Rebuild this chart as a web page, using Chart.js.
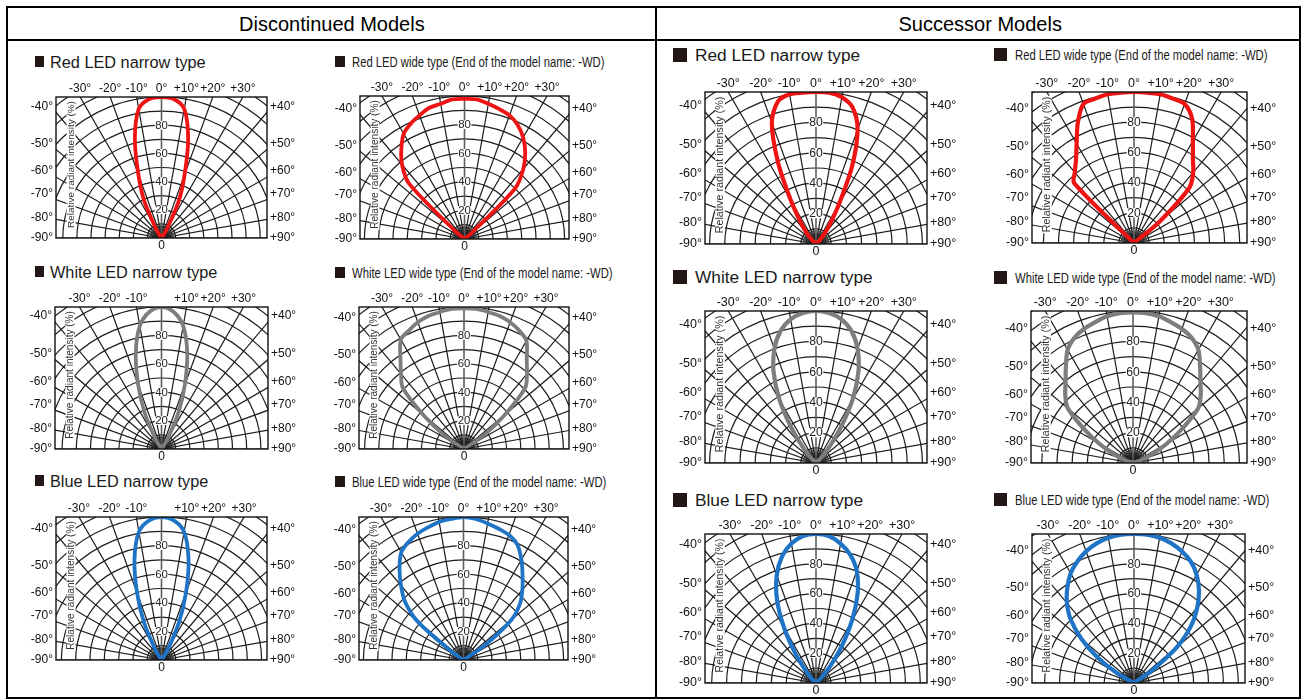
<!DOCTYPE html>
<html><head><meta charset="utf-8">
<script src="https://cdn.jsdelivr.net/npm/chart.js@4.4.1/dist/chart.umd.min.js"></script>
<style>
html,body{margin:0;padding:0;background:#fff;width:1306px;height:700px;overflow:hidden;font-family:"Liberation Sans",Arial,sans-serif;}
#stage{position:relative;width:1306px;height:700px;}
.line{position:absolute;background:#000;}
.hdr{position:absolute;font-size:20px;line-height:20px;color:#000;white-space:nowrap;}
.sq{position:absolute;background:#231815;}
.ttl{position:absolute;white-space:nowrap;color:#1a1a1a;transform-origin:0 50%;}
.box{position:absolute;}
</style></head><body><div id="stage"></div>
<script>
// ---------- data ----------
const angles = [-75,-70,-65,-60,-55,-50,-45,-40,-35,-30,-25,-20,-15,-10,-5,0,5,10,15,20,25,30,35,40,45,50,55,60,65,70,75];
const topTickAngles = [-30,-20,-10,0,10,20,30];
const sideTickAngles = [40,50,60,70,80,90];
const radialTickLabels = [20,40,60,80];
const columnTitles = ['Discontinued Models','Successor Models'];
const axisTitle = 'Relative radiant intensity (%)';
const panelTitles = [
  'Red LED narrow type','Red LED wide type (End of the model name: -WD)',
  'White LED narrow type','White LED wide type (End of the model name: -WD)',
  'Blue LED narrow type','Blue LED wide type (End of the model name: -WD)'
];
// relative radiant intensity (%) at each angle of `angles`
const redNarrowOld   = [0,0,0,0,0,0,0,0,2,9,29,48,73,93,99,100,99,93,73,48,29,9,2,0,0,0,0,0,0,0,0];
const redWideOld     = [0,0,0,0,0,8,55,68,77,85,89,92,95,96,98,98,98,96,94,92,88,82,74,64,50,6,0,0,0,0,0];
const whiteNarrowOld = [0,0,0,0,0,0,0,0,2,10,28,48,70,88,97,100,97,88,70,48,28,10,2,0,0,0,0,0,0,0,0];
const whiteWideOld   = [0,0,0,0,18,38,61,69,78,89,92,95,97,98,99,99,99,98,97,95,92,88,77,69,61,38,18,0,0,0,0];
const blueNarrowOld  = [0,0,0,0,0,0,0,0,2,10,29,50,73,91,98,100,98,91,73,50,29,10,2,0,0,0,0,0,0,0,0];
const blueWideOld    = [0,0,0,0,10,42,58,68,78,87,91,94,96,98,99,100,99,97,95,93,89,81,72,64,56,44,20,0,0,0,0];
const redNarrowNew   = [0,0,0,0,0,0,4,10,18,33,59,85,97,100,100,100,100,98,93,80,56,30,16,8,3,0,0,0,0,0,0];
const redWideNew     = [0,0,0,0,0,0,56,61,67,76,88,98,99,100,100,100,100,100,99,98,91,78,68,61,52,22,0,0,0,0,0];
const whiteNarrowNew = [0,0,0,0,0,0,5,13,28,48,66,80,90,96,99,100,99,96,90,80,66,48,28,13,5,0,0,0,0,0,0];
const whiteWideNew   = [0,6,14,26,40,56,63,69,77,86,91,94,96,98,99,99,99,98,96,94,91,86,77,69,63,56,40,26,14,6,0];
const blueNarrowNew  = [0,0,0,0,0,0,4,10,24,43,62,77,88,95,99,100,99,95,89,80,66,48,30,15,5,0,0,0,0,0,0];
const blueWideNew    = [0,0,0,13,30,46,60,70,78,85,90,94,97,99,100,100,100,99,97,94,90,84,76,66,54,38,15,0,0,0,0];

const RED = '#ee1414', GRAY = '#7d7d7d', BLUE = '#1f74c6';

// ---------- layout ----------
const stage = document.getElementById('stage');
function line(x,y,w,h){const d=document.createElement('div');d.className='line';Object.assign(d.style,{left:x+'px',top:y+'px',width:w+'px',height:h+'px'});stage.appendChild(d);}
line(6,6,1295,2); line(6,39,1295,2); line(6,6,2,693); line(1299,6,2,693); line(655,6,2,693); line(6,697,1295,2);
function hdr(text,cx,cy){const d=document.createElement('div');d.className='hdr';d.textContent=text;stage.appendChild(d);
  d.style.left=(cx-d.offsetWidth/2)+'px';d.style.top=(cy-10)+'px';}
hdr(columnTitles[0],332,24); hdr(columnTitles[1],980,24);

const panels = [
  {data:redNarrowOld,  color:RED,  title:0,rect:[56,97,211,141], sq:[35,56,9,11], tx:50, cy:62, fs:16.3, sx:1, zero:true, lw:3.8},
  {data:redWideOld,    color:RED,  title:1,rect:[360,96,209,143],sq:[335,56,10,11],tx:352,cy:62, fs:14, sx:0.805, zero:true, lw:3.8},
  {data:whiteNarrowOld,color:GRAY, title:2,rect:[55,307,213,142],sq:[35,266,9,11],tx:50, cy:272,fs:16.3, sx:1, zero:false, lw:3.8},
  {data:whiteWideOld,  color:GRAY, title:3,rect:[359,307,210,142],sq:[335,267,10,11],tx:352,cy:273,fs:14, sx:0.805, zero:true, lw:3.8},
  {data:blueNarrowOld, color:BLUE, title:4,rect:[56,517,211,143],sq:[35,475,9,11],tx:50, cy:481,fs:16.3, sx:1, zero:false, lw:3.8},
  {data:blueWideOld,   color:BLUE, title:5,rect:[359,517,209,143],sq:[335,476,10,11],tx:352,cy:482,fs:14, sx:0.805, zero:true, lw:3.8},
  {data:redNarrowNew,  color:RED,  title:0,rect:[705,92,222,152],sq:[673,48,14,14],tx:695,cy:55, fs:17.3, sx:1, zero:true, lw:4.2},
  {data:redWideNew,    color:RED,  title:1,rect:[1032,92,215,151],sq:[994,48,13,13],tx:1015,cy:55, fs:14, sx:0.805, zero:true, lw:4.2, ox:1134},
  {data:whiteNarrowNew,color:GRAY, title:2,rect:[705,311,222,152],sq:[673,270,14,14],tx:695,cy:277,fs:17.3, sx:1, zero:true, lw:4.2},
  {data:whiteWideNew,  color:GRAY, title:3,rect:[1031,311,216,152],sq:[994,271,13,13],tx:1015,cy:278,fs:14, sx:0.805, zero:true, lw:4.2, ox:1133},
  {data:blueNarrowNew, color:BLUE, title:4,rect:[705,534,222,149],sq:[673,493,14,14],tx:695,cy:500,fs:17.3, sx:1, zero:true, lw:4.2},
  {data:blueWideNew,   color:BLUE, title:5,rect:[1032,534,213,149],sq:[994,493,13,13],tx:1015,cy:500,fs:14, sx:0.805, zero:true, lw:4.2, ox:1134}
];

const deg = Math.PI/180;
const FONT = '"Liberation Sans", Arial, sans-serif';

const polarPlugin = {
  id:'polarGrid',
  beforeDatasetsDraw(chart){
    const {ctx, chartArea:a, scales:{x,y}} = chart;
    const ox = x.getPixelForValue(0), oy = y.getPixelForValue(0);
    const ppu = x.getPixelForValue(1) - ox;
    ctx.save();
    ctx.beginPath(); ctx.rect(a.left,a.top,a.right-a.left,a.bottom-a.top); ctx.clip();
    ctx.strokeStyle = '#1c1c1c'; ctx.lineWidth = 1.2;
    for (let r = 10; r <= 140; r += 10){ ctx.beginPath(); ctx.arc(ox,oy,r*ppu,Math.PI,2*Math.PI); ctx.stroke(); }
    for (let t = -90; t <= 90; t += 10){ if (t===0) continue;
      ctx.beginPath(); ctx.moveTo(ox,oy); ctx.lineTo(ox+300*ppu*Math.sin(t*deg), oy-300*ppu*Math.cos(t*deg)); ctx.stroke(); }
    // dense fan near the origin
    ctx.lineWidth = 0.9;
    for (let t = -85; t <= 85; t += 10){
      ctx.beginPath(); ctx.moveTo(ox,oy); ctx.lineTo(ox+9*ppu*Math.sin(t*deg), oy-9*ppu*Math.cos(t*deg)); ctx.stroke(); }
    ctx.fillStyle = 'rgba(30,30,30,0.85)';
    ctx.beginPath(); ctx.arc(ox,oy,3.2*ppu,Math.PI,2*Math.PI); ctx.fill();
    ctx.strokeStyle = '#5e5e5e'; ctx.lineWidth = 1.6;
    ctx.beginPath(); ctx.moveTo(ox,oy); ctx.lineTo(ox,a.top); ctx.stroke();
    // value labels on the 0° axis
    const vf = Math.round((a.bottom-a.top)*0.08*10)/10;
    ctx.font = vf+'px '+FONT; ctx.textAlign='center'; ctx.textBaseline='middle';
    radialTickLabels.forEach(v=>{
      const py = y.getPixelForValue(v); const w = ctx.measureText(String(v)).width;
      ctx.fillStyle='#fff'; ctx.fillRect(ox-w/2-0.5, py-vf*0.38, w+1, vf*0.76);
      ctx.fillStyle='#222'; ctx.fillText(String(v), ox, py+0.5);
    });
    // rotated axis title
    const h = a.bottom-a.top;
    ctx.translate(a.left+15, (a.top+a.bottom)/2 - 3); ctx.rotate(-Math.PI/2);
    let fs = 10; ctx.font = fs+'px '+FONT;
    fs = fs * (h*0.9) / ctx.measureText(axisTitle).width; ctx.font = fs+'px '+FONT;
    const tw = ctx.measureText(axisTitle).width;
    ctx.fillStyle='#fff'; ctx.fillRect(-tw/2-1, -fs*0.45, tw+2, fs*0.9);
    ctx.fillStyle='#333'; ctx.textAlign='center'; ctx.textBaseline='middle'; ctx.fillText(axisTitle,0,0.5);
    ctx.restore();
  },
  afterDatasetsDraw(chart, args, opts){
    const {ctx, chartArea:a, scales:{x,y}} = chart;
    const ox = x.getPixelForValue(0);
    ctx.save();
    ctx.strokeStyle='#111'; ctx.lineWidth=1.4;
    ctx.strokeRect(a.left, a.top, a.right-a.left, a.bottom-a.top);
    const lf = opts.labelFont;
    ctx.font = lf+'px '+FONT; ctx.fillStyle='#111'; ctx.textBaseline='middle';
    ctx.textAlign='center';
    topTickAngles.forEach(t=>{
      if (t===0 && !opts.zero) return;
      const lbl = (t>0?'+':'')+t+'°';
      ctx.fillText(lbl, x.getPixelForValue(100*Math.tan(t*deg)), a.top-8);
    });
    const halfW = (x.max - x.min)/2;
    sideTickAngles.forEach(t=>{
      const yv = t===90 ? 0 : halfW/Math.tan(t*deg);
      const off = t<=70 ? -6 : (t===80 ? -2 : 0);
      const py = y.getPixelForValue(yv)+off;
      ctx.textAlign='right'; ctx.fillText('-'+t+'°', a.left-3, py);
      ctx.textAlign='left'; ctx.fillText('+'+t+'°', a.right+3, py);
    });
    ctx.textAlign='center'; ctx.fillText('0', ox, a.bottom+8);
    ctx.restore();
  }
};

const PL=40, PR=42, PT=20, PB=16;
panels.forEach(p=>{
  const [rx,ry,rw,rh] = p.rect;
  const ox = p.ox ?? (rx+rw/2);
  const ppu = rh/100;
  const xmin = -(ox-rx)/ppu, xmax = (rx+rw-ox)/ppu;
  // title
  const sq=document.createElement('div'); sq.className='sq';
  Object.assign(sq.style,{left:p.sq[0]+'px',top:p.sq[1]+'px',width:p.sq[2]+'px',height:p.sq[3]+'px'}); stage.appendChild(sq);
  const t=document.createElement('div'); t.className='ttl'; t.textContent=panelTitles[p.title];
  Object.assign(t.style,{left:p.tx+'px',top:(p.cy-0.49*p.fs)+'px',fontSize:p.fs+'px',lineHeight:p.fs+'px',transform:'scaleX('+p.sx+')'});
  stage.appendChild(t);
  // chart
  const box=document.createElement('div'); box.className='box';
  const W=rw+PL+PR, H=rh+PT+PB;
  Object.assign(box.style,{left:(rx-PL)+'px',top:(ry-PT)+'px',width:W+'px',height:H+'px'});
  const cv=document.createElement('canvas'); cv.width=W; cv.height=H; cv.style.width=W+'px'; cv.style.height=H+'px';
  box.appendChild(cv); stage.appendChild(box);
  const pts = angles.map((ang,i)=>({x:p.data[i]*Math.sin(ang*deg), y:p.data[i]*Math.cos(ang*deg)}));
  new Chart(cv,{
    type:'scatter',
    data:{datasets:[{data:pts, showLine:true, borderColor:p.color, borderWidth:p.lw, pointRadius:0, tension:0.3, fill:false, borderCapStyle:'round', borderJoinStyle:'round'}]},
    options:{
      responsive:false, animation:false, events:[],
      layout:{padding:{left:PL,right:PR,top:PT,bottom:PB}},
      scales:{x:{type:'linear',min:xmin,max:xmax,display:false}, y:{type:'linear',min:0,max:100,display:false}},
      plugins:{legend:{display:false}, tooltip:{enabled:false}, polarGrid:{zero:p.zero, labelFont: rh>146 ? 12.5 : 12}}
    },
    plugins:[polarPlugin]
  });
});
</script></body></html>
